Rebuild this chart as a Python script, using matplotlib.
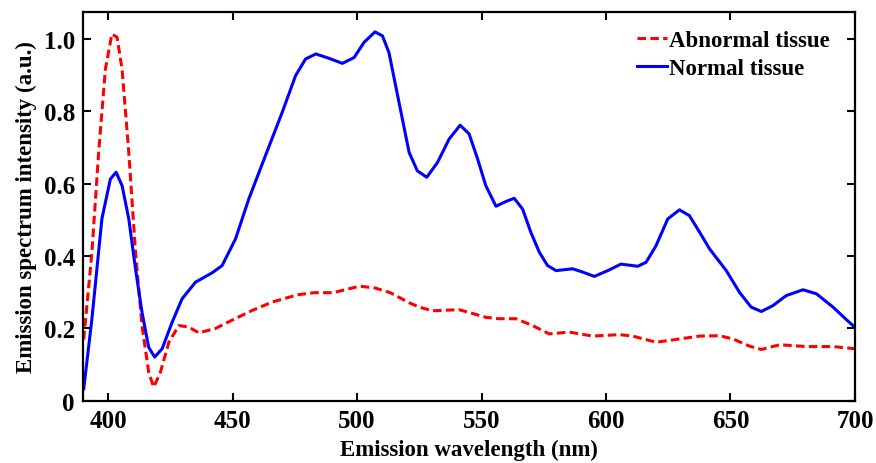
'''Emission spectra of abnormal and normal tissue.'''
import matplotlib
matplotlib.use('Agg')
import matplotlib.pyplot as plt

plt.rcParams['font.family'] = ['Liberation Serif', 'DejaVu Serif']
plt.rcParams['font.weight'] = 'bold'

# Normal tissue (blue, solid)
wl_normal = [390.2, 393.5, 397.5, 400.9, 403.2, 405.6, 408.3, 411.0, 413.6, 416.3,
             418.7, 421.7, 425.7, 429.7, 435.1, 441.8, 445.8, 451.2, 456.5, 463.2,
             469.9, 475.3, 479.3, 483.4, 488.7, 494.1, 498.8, 502.8, 507.2, 510.2,
             512.8, 515.5, 518.2, 520.9, 524.2, 528.0, 532.3, 537.0, 541.4, 545.0,
             548.4, 551.7, 555.8, 559.8, 563.1, 566.5, 569.8, 573.2, 576.5, 579.9,
             586.6, 590.6, 595.3, 600.7, 606.0, 612.7, 616.1, 620.1, 624.8, 629.5,
             633.5, 637.6, 641.6, 648.3, 653.6, 658.3, 662.4, 667.0, 672.4, 679.1,
             684.5, 691.2, 696.0, 700.0]
int_normal = [0.033, 0.227, 0.503, 0.613, 0.632, 0.595, 0.503, 0.365, 0.245, 0.148,
              0.121, 0.144, 0.217, 0.282, 0.328, 0.354, 0.374, 0.448, 0.558, 0.678,
              0.797, 0.899, 0.945, 0.959, 0.947, 0.933, 0.949, 0.991, 1.020, 1.009,
              0.963, 0.871, 0.779, 0.687, 0.636, 0.618, 0.659, 0.724, 0.762, 0.738,
              0.669, 0.595, 0.538, 0.551, 0.560, 0.530, 0.466, 0.411, 0.374, 0.360,
              0.365, 0.356, 0.344, 0.360, 0.378, 0.372, 0.383, 0.429, 0.503, 0.528,
              0.512, 0.466, 0.420, 0.360, 0.300, 0.259, 0.247, 0.263, 0.291, 0.307,
              0.296, 0.259, 0.228, 0.203]

# Abnormal tissue (red, dashed)
wl_abnormal = [390.2, 393.5, 396.2, 398.9, 401.5, 403.6, 405.6, 408.3, 411.0, 413.6,
               416.3, 418.3, 421.0, 424.4, 428.4, 432.4, 436.4, 443.1, 449.8, 457.9,
               465.9, 476.0, 482.7, 490.4, 501.0, 507.2, 513.3, 521.0, 525.0, 530.3,
               541.0, 551.7, 557.0, 563.8, 570.5, 577.2, 585.3, 594.6, 605.4, 610.7,
               620.1, 629.5, 637.6, 645.6, 651.0, 657.7, 662.4, 669.7, 680.5, 691.2,
               700.0]
int_abnormal = [0.170, 0.411, 0.687, 0.917, 1.014, 1.005, 0.917, 0.687, 0.411, 0.208,
                0.079, 0.038, 0.079, 0.162, 0.208, 0.204, 0.188, 0.200, 0.223, 0.250,
                0.273, 0.293, 0.299, 0.299, 0.317, 0.312, 0.299, 0.271, 0.259, 0.249,
                0.252, 0.231, 0.227, 0.227, 0.208, 0.185, 0.190, 0.179, 0.183, 0.179,
                0.162, 0.171, 0.179, 0.180, 0.171, 0.151, 0.142, 0.155, 0.150, 0.150,
                0.144]

x_ticks = [400, 450, 500, 550, 600, 650, 700]
y_ticks = [0, 0.2, 0.4, 0.6, 0.8, 1.0]
y_labels = ['0', '0.2', '0.4', '0.6', '0.8', '1.0']

fig = plt.figure(figsize=(8.76, 4.64), dpi=100)
ax = fig.add_axes([0.095, 0.134, 0.881, 0.838])

ax.plot(wl_abnormal, int_abnormal, color='#ff0000', lw=2.2, dashes=(2.8, 1.4),
        label='Abnormal tissue')
ax.plot(wl_normal, int_normal, color='#0000ff', lw=2.2, label='Normal tissue')

ax.set_xlim(390, 700)
ax.set_ylim(0, 1.075)
ax.set_xticks(x_ticks)
ax.set_yticks(y_ticks)
ax.set_yticklabels(y_labels)
ax.tick_params(direction='in', length=6, width=1.5, top=True, right=True,
               labelsize=18, pad=6)
for lab in ax.get_xticklabels() + ax.get_yticklabels():
    lab.set_fontweight('bold')
for sp in ax.spines.values():
    sp.set_linewidth(1.6)

ax.set_xlabel('Emission wavelength (nm)', fontsize=16.5, fontweight='bold', labelpad=5)
ax.set_ylabel('Emission spectrum intensity (a.u.)', fontsize=16.5, fontweight='bold',
              labelpad=5)

ax.legend(loc='upper right', bbox_to_anchor=(0.991, 1.0), frameon=False,
          handlelength=1.3, handletextpad=0.1, borderaxespad=0.4, labelspacing=0.3,
          prop={'weight': 'bold', 'size': 16.5})

plt.savefig('out.png', dpi=100)
plt.close()
